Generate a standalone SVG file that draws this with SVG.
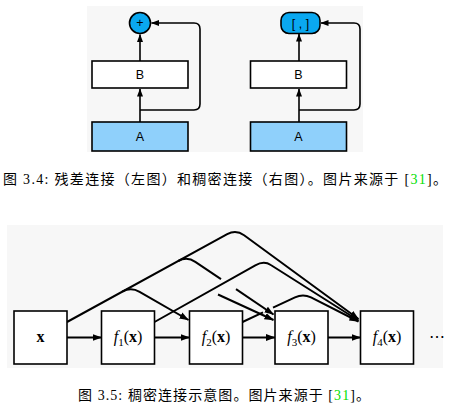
<svg xmlns="http://www.w3.org/2000/svg" width="453" height="410" viewBox="0 0 453 410">
<style>
.bg{fill:#f7f7f7}
.box{fill:#fff;stroke:#000;stroke-width:1.6}
.boxA{fill:#8fd0fb;stroke:#000;stroke-width:1.6}
.op{fill:#0aa8f0;stroke:#000;stroke-width:1.6}
.ln{fill:none;stroke:#000;stroke-width:2;stroke-linejoin:round}
.lt{fill:none;stroke:#000;stroke-width:1.6;stroke-linejoin:round}
.sans{font-family:"Liberation Sans",Arial,sans-serif;font-size:12.5px;fill:#000;text-anchor:middle}
.m{font-family:"Liberation Serif","Times New Roman",serif;font-size:16px;fill:#000;text-anchor:middle}
.cap{font-family:"Liberation Serif","Noto Sans CJK SC",serif;font-size:14px;fill:#000}
.g{fill:#00e000}
</style>
<defs>
<marker id="ah" markerUnits="userSpaceOnUse" markerWidth="10" markerHeight="8" refX="9" refY="4" orient="auto" viewBox="0 0 10 8"><path d="M0,0.6 L9.5,4 L0,7.4 z" fill="#000"/></marker>
<marker id="ah2" markerUnits="userSpaceOnUse" markerWidth="8" markerHeight="7" refX="7.5" refY="3.5" orient="auto" viewBox="0 0 8 7"><path d="M0,0.5 L8,3.5 L0,6.5 z" fill="#000"/></marker>
</defs>

<!-- top figure background -->
<rect class="bg" x="87" y="6" width="276" height="146"/>
<!-- bottom figure background -->
<rect class="bg" x="7" y="225" width="436" height="143"/>

<g id="connectors">
  <!-- residual (left) -->
  <path class="lt" d="M140,122 L140,89" marker-end="url(#ah2)"/>
  <path class="lt" d="M140,61 L140,34.5" marker-end="url(#ah2)"/>
  <path class="lt" d="M140,110 L194,110 Q200,110 200,104 L200,29 Q200,23 194,23 L151.5,23" marker-end="url(#ah2)"/>
  <!-- dense (right) -->
  <path class="lt" d="M299,122 L299,89" marker-end="url(#ah2)"/>
  <path class="lt" d="M299,61 L299,34" marker-end="url(#ah2)"/>
  <path class="lt" d="M299,110 L354,110 Q360,110 360,104 L360,29 Q360,23 354,23 L321,23" marker-end="url(#ah2)"/>

  <!-- bottom: sequential arrows -->
  <path class="ln" d="M67,337.5 L101.5,337.5" marker-end="url(#ah)"/>
  <path class="ln" d="M154.5,337.5 L189.5,337.5" marker-end="url(#ah)"/>
  <path class="ln" d="M242.5,337.5 L275,337.5" marker-end="url(#ah)"/>
  <path class="ln" d="M328,337.5 L360.5,337.5" marker-end="url(#ah)"/>

  <!-- x -> f4 -->
  <path class="ln" d="M67,322 L227.2,234.2 Q236,229.4 244.1,235.3 L358.5,319" marker-end="url(#ah)"/>
  <!-- x -> f3 -->
  <path class="ln" d="M178.2,261 Q187,256.2 195.3,261.8 L221,279.1"/>
  <path class="ln" d="M236,289.1 L273.5,314.5" marker-end="url(#ah)"/>
  <!-- x -> f2 -->
  <path class="ln" d="M122.2,291.7 Q131,286.9 139.6,291.9 L188.5,320" marker-end="url(#ah)"/>
  <!-- f1 -> f4 -->
  <path class="ln" d="M154.5,322 L255.3,265.3 Q264,260.4 270.8,265 L358.5,320.5" marker-end="url(#ah)"/>
  <!-- f1 -> f3 -->
  <path class="ln" d="M218,294.5 L273.5,320" marker-end="url(#ah)"/>
  <!-- f2 -> f4 -->
  <path class="ln" d="M242.5,322 L263,312.4"/>
  <path class="ln" d="M273,307.7 L295,297.4 Q303,293.6 311,297.4 L358.5,321.5" marker-end="url(#ah)"/>
</g>

<!-- top-left: residual -->
<g id="res-add">
  <circle class="op" cx="140" cy="23" r="10.5"/>
  <text class="sans" x="140" y="27" font-size="11">+</text>
</g>
<g id="res-B">
  <rect class="box" x="92" y="61" width="96" height="27"/>
  <text class="sans" x="140" y="79">B</text>
</g>
<g id="res-A">
  <rect class="boxA" x="92" y="122" width="96" height="29"/>
  <text class="sans" x="140" y="140.5">A</text>
</g>

<!-- top-right: dense -->
<g id="dense-concat">
  <rect class="op" x="281" y="12.5" width="39" height="21" rx="8"/>
  <text class="sans" x="300.5" y="28" xml:space="preserve">[ , ]</text>
</g>
<g id="dense-B">
  <rect class="box" x="250.5" y="61" width="96" height="27"/>
  <text class="sans" x="298.5" y="79">B</text>
</g>
<g id="dense-A">
  <rect class="boxA" x="250.5" y="122" width="96" height="29"/>
  <text class="sans" x="298.5" y="140.5">A</text>
</g>

<text class="cap" x="3" y="184" textLength="444" lengthAdjust="spacing">图 3.4: 残差连接（左图）和稠密连接（右图）。图片来源于 [<tspan class="g">31</tspan>]。</text>

<!-- bottom figure nodes -->
<g id="node-x">
  <rect class="box" x="14" y="311" width="53" height="53"/>
  <text class="m" x="40.5" y="342" font-weight="bold">x</text>
</g>
<g id="node-f1">
  <rect class="box" x="101.5" y="311" width="53" height="53"/>
  <text class="m" x="128" y="342"><tspan font-style="italic">f</tspan><tspan font-size="11" dy="3.5">1</tspan><tspan dy="-3.5">(</tspan><tspan font-weight="bold">x</tspan>)</text>
</g>
<g id="node-f2">
  <rect class="box" x="189.5" y="311" width="53" height="53"/>
  <text class="m" x="216" y="342"><tspan font-style="italic">f</tspan><tspan font-size="11" dy="3.5">2</tspan><tspan dy="-3.5">(</tspan><tspan font-weight="bold">x</tspan>)</text>
</g>
<g id="node-f3">
  <rect class="box" x="275" y="311" width="53" height="53"/>
  <text class="m" x="301.5" y="342"><tspan font-style="italic">f</tspan><tspan font-size="11" dy="3.5">3</tspan><tspan dy="-3.5">(</tspan><tspan font-weight="bold">x</tspan>)</text>
</g>
<g id="node-f4">
  <rect class="box" x="360.5" y="311" width="53" height="53"/>
  <text class="m" x="387" y="342"><tspan font-style="italic">f</tspan><tspan font-size="11" dy="3.5">4</tspan><tspan dy="-3.5">(</tspan><tspan font-weight="bold">x</tspan>)</text>
</g>
<text class="m" x="436.5" y="342" font-family="DejaVu Serif, serif" font-size="13">⋯</text>

<text class="cap" x="78" y="400" textLength="292" lengthAdjust="spacing">图 3.5: 稠密连接示意图。图片来源于 [<tspan class="g">31</tspan>]。</text>
</svg>
